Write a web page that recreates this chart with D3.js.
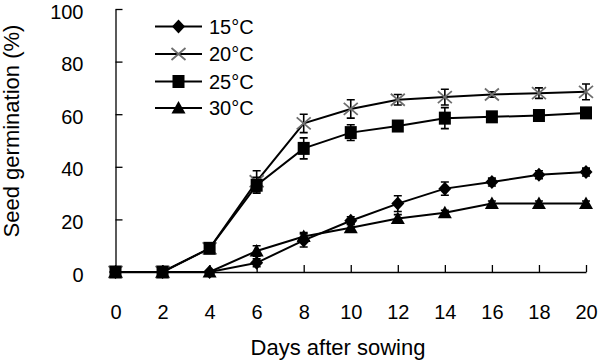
<!DOCTYPE html>
<html><head><meta charset="utf-8">
<script src="https://cdn.jsdelivr.net/npm/d3@7"></script>
<style>body{margin:0;background:#fff}svg{display:block}text{font-family:"Liberation Sans",Arial,sans-serif;fill:#000}</style>
</head><body><svg id="c" width="600" height="362"></svg>
<script>
const days = [0,2,4,6,8,10,12,14,16,18,20];
const xTicks = [0,2,4,6,8,10,12,14,16,18,20];
const yTicks = [0,20,40,60,80,100];
const seriesNames = ["15°C","20°C","25°C","30°C"];
const v15 = [0,0,0,3.5,12,19.5,26,31.7,34.2,37,38];
const v20 = [0,0,9,34.5,56.5,62,65.5,66.5,67.5,68,68.5];
const v25 = [0,0,9,33,47,53,55.5,58.5,59,59.5,60.5];
const v30 = [0,0,0,8,13.5,16.8,20.3,22.5,26,26,26];
const e15 = [0,0,0,1.5,2.5,1.5,3,2.5,1.5,1.5,1.5];
const e20 = [0,0,1,4,3.5,3.5,2,3,1,2,3];
const e25 = [0,0,1,3,4,3,1,4,1.5,1.5,1.5];
const e30 = [0,0,0,2,1.5,1.5,1.5,1,1,1,1];
const markers = ["diamond","cross","square","triangle"];

const series = [
  {name:seriesNames[0], v:v15, e:e15, m:markers[0]},
  {name:seriesNames[1], v:v20, e:e20, m:markers[1]},
  {name:seriesNames[2], v:v25, e:e25, m:markers[2]},
  {name:seriesNames[3], v:v30, e:e30, m:markers[3]}
];

const svg = d3.select("#c");
const x = d3.scaleLinear().domain([0,20]).range([115.5,586]);
const y = d3.scaleLinear().domain([0,100]).range([272,9]);

// axes
const gx = svg.append("g").attr("transform","translate(0,272)")
  .call(d3.axisBottom(x).tickValues(xTicks).tickSizeInner(-7).tickSizeOuter(0).tickPadding(33));
const gy = svg.append("g").attr("transform","translate(115.5,0)")
  .call(d3.axisLeft(y).tickValues(yTicks).tickSizeInner(-7).tickSizeOuter(0).tickPadding(32));
[gx,gy].forEach(g=>{
  g.select(".domain").attr("stroke","#000").attr("stroke-width",1.3);
  g.selectAll(".tick line").attr("stroke","#000").attr("stroke-width",1.3);
  g.selectAll(".tick text").attr("font-size",20).attr("font-family",'"Liberation Sans",Arial,sans-serif').attr("fill","#000");
});
gy.selectAll(".tick text").attr("dy","0.45em");
gx.selectAll(".tick").filter(d=>d===0).select("line").remove();
gy.selectAll(".tick").filter(d=>d===0).select("line").remove();

function drawMarker(g, type, cx, cy){
  if(type==="diamond"){
    g.append("path").attr("d",`M${cx},${cy-7}L${cx+6.5},${cy}L${cx},${cy+7}L${cx-6.5},${cy}Z`).attr("fill","#000");
  } else if(type==="square"){
    g.append("rect").attr("x",cx-6).attr("y",cy-6.5).attr("width",12).attr("height",13).attr("fill","#000");
  } else if(type==="triangle"){
    g.append("path").attr("d",`M${cx},${cy-7}L${cx+7},${cy+5.5}L${cx-7},${cy+5.5}Z`).attr("fill","#000");
  } else {
    g.append("path").attr("d",`M${cx-7},${cy-6}L${cx+7},${cy+6}M${cx-7},${cy+6}L${cx+7},${cy-6}`)
      .attr("stroke","#6e6e6e").attr("stroke-width",1.8).attr("fill","none");
  }
}

const line = d3.line().x((d,i)=>x(days[i])).y(d=>y(d));
series.forEach(s=>{
  const g = svg.append("g");
  g.append("path").attr("d",line(s.v)).attr("fill","none").attr("stroke","#000").attr("stroke-width",2);
  s.v.forEach((v,i)=>{
    if(s.e[i]>0){
      const cx=x(days[i]), y1=y(v+s.e[i]), y2=y(v-s.e[i]);
      g.append("path").attr("d",`M${cx},${y1}V${y2}M${cx-4},${y1}H${cx+4}M${cx-4},${y2}H${cx+4}`)
        .attr("stroke","#000").attr("stroke-width",1.6).attr("fill","none");
    }
  });
  s.v.forEach((v,i)=>drawMarker(g,s.m,x(days[i]),y(v)));
});

// legend
const legY = [26.5,54,81.5,108];
series.forEach((s,i)=>{
  const g = svg.append("g");
  g.append("line").attr("x1",155).attr("x2",202).attr("y1",legY[i]).attr("y2",legY[i]).attr("stroke","#000").attr("stroke-width",2);
  drawMarker(g,s.m,178.5,legY[i]);
  g.append("text").attr("x",209).attr("y",legY[i]).attr("dy","0.35em").attr("font-size",20).text(s.name);
});

// titles
svg.append("text").attr("x",338).attr("y",355).attr("text-anchor","middle").attr("font-size",22).text("Days after sowing");
svg.append("text").attr("transform","translate(19,131) rotate(-90)").attr("text-anchor","middle").attr("font-size",22).text("Seed germination (%)");
</script></body></html>
